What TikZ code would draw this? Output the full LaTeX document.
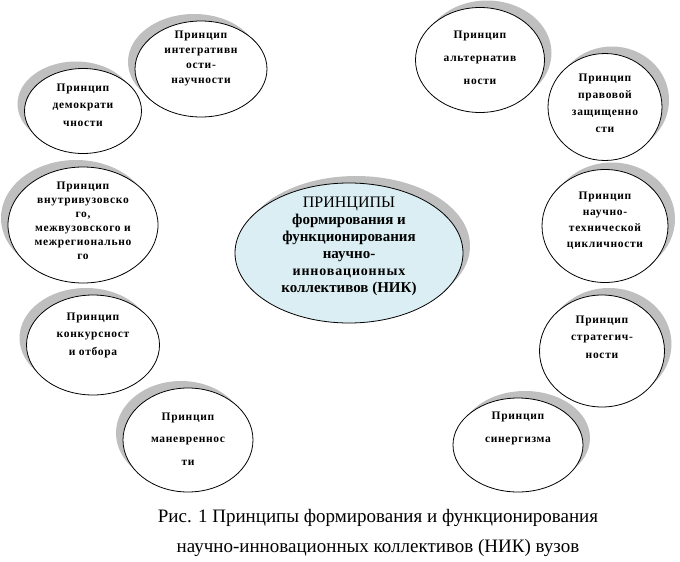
\documentclass[tikz,border=0pt]{standalone}
\usepackage{fontspec}
\setmainfont{Liberation Serif}
\newfontfamily\ellfont[LetterSpace=6]{Liberation Serif}
\usepackage{tikz}
\usepackage{xcolor}
\usetikzlibrary{positioning,shapes.geometric,shadows}

\definecolor{centre-blue}{RGB}{218,238,243}

\begin{document}
\begin{tikzpicture}
[
x=1pt, y=-1pt,
ell-a/.style={ellipse, draw, line width=0.8pt, fill=white, inner sep=0pt},
ell-l/.style={ell-a, drop shadow={shadow xshift=-7pt, shadow yshift=7pt, fill=gray!50, opacity=1}},
ell-r/.style={ell-a, drop shadow={shadow xshift=7pt, shadow yshift=7pt, fill=gray!50, opacity=1}},
text-a/.style={align=center, font=\ellfont\bfseries\fontsize{11.5}{#1}\selectfont},
text-a/.default=15,
text-c/.style={align=center, font=\bfseries\fontsize{15}{17}\selectfont},
text-p/.style={align=center, font=\fontsize{19}{30}\selectfont}
]
\useasboundingbox (0,0) rectangle (680,562);
% left side
\node (ell-1)  [ell-l, minimum width = 132pt, minimum height = 96pt ] at (201,69)  {};
\node (txt-1)  [text-a=15]   at (201,58)  {Принцип\\интегративн\\ости-\\научности};
\node (ell-2)  [ell-l, minimum width = 117pt, minimum height = 85pt ] at (83,111)  {};
\node (txt-2)  [text-a=17.5] at (83,105)  {Принцип\\демократи\\чности};
\node (ell-3)  [ell-l, minimum width = 150pt, minimum height = 116pt] at (83,225)  {};
\node (txt-3)  [text-a=14]   at (83,221)  {Принцип\\внутривузовско\\го,\\межвузовского и\\межрегионально\\го};
\node (ell-4)  [ell-l, minimum width = 133pt, minimum height = 100pt] at (93,345)  {};
\node (txt-4)  [text-a=17.5] at (93,335)  {Принцип\\конкурсност\\и отбора};
\node (ell-5)  [ell-l, minimum width = 130pt, minimum height = 104pt] at (188,440) {};
\node (txt-5)  [text-a=22.5] at (188,439) {Принцип\\маневреннос\\ти};
% right side
\node (ell-6)  [ell-r, minimum width = 129pt, minimum height = 105pt] at (480,60)  {};
\node (txt-6)  [text-a=23]   at (480,58)  {Принцип\\альтернатив\\ности};
\node (ell-7)  [ell-r, minimum width = 114pt, minimum height = 107pt] at (605,107) {};
\node (txt-7)  [text-a=17]   at (605,103) {Принцип\\правовой\\защищенно\\сти};
\node (ell-8)  [ell-r, minimum width = 126pt, minimum height = 113pt] at (605,226) {};
\node (txt-8)  [text-a=16]   at (605,221) {Принцип\\научно-\\технической\\цикличности};
\node (ell-9)  [ell-r, minimum width = 125pt, minimum height = 112pt] at (602,351) {};
\node (txt-9)  [text-a=17.5] at (602,337) {Принцип\\стратегич-\\ности};
\node (ell-10) [ell-r, minimum width = 130pt, minimum height = 94pt ] at (518,445) {};
\node (txt-10) [text-a=23]   at (518,428) {Принцип\\синергизма};
% centre
\node (ell-c)  [ell-r, fill=centre-blue, minimum width = 228pt, minimum height = 140pt] at (349,253) {};
\node (txt-c)  [text-c] at (349,246) {{\fontsize{16}{17}\selectfont\mdseries ПРИНЦИПЫ}\\формирования и\\функционирования\\научно-\\{\ellfont\fontsize{14}{17}\selectfont инновационных}\\коллективов (НИК)};
% caption
\node (capt)   [text-p] at (378,533) {Рис. 1 Принципы формирования и функционирования\\научно-инновационных коллективов (НИК) вузов};
\end{tikzpicture}
\end{document}
